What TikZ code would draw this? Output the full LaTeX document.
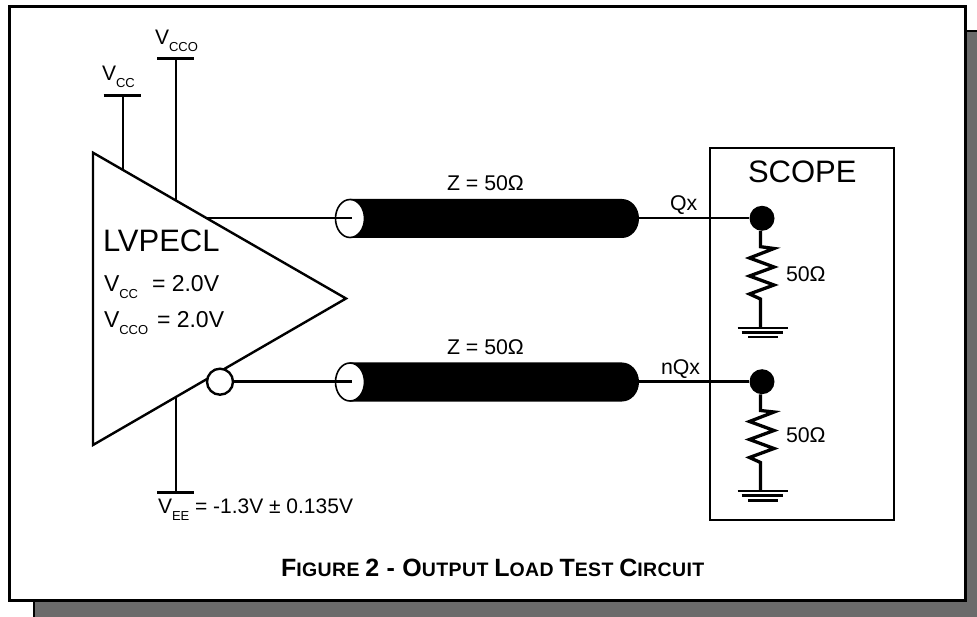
\documentclass[tikz,border=0pt]{standalone}
\usepackage{fontspec}
\setmainfont{Liberation Sans}
\newfontfamily\capfont[LetterSpace=2.0]{Liberation Sans}
\usetikzlibrary{shapes.geometric}
\newcommand{\fsz}[1]{\fontsize{#1}{#1}\selectfont}
\newcommand{\VVsub}[3]{{\fsz{#1}V\raisebox{-7pt}{\fsz{#2}#3}}}
\newcommand{\capbig}[1]{{\fsz{25}#1}}
\tikzset{
  txt/.style={anchor=base west,inner sep=0pt,outer sep=0pt,font=\fsz{21.3}},
  thick wire/.style={draw=black,line width=2.4pt},
  res wire/.style={draw=black,line width=3.3pt,line join=miter},
  railbar/.style={draw=black,line width=3pt},
  gnd/.style={draw=black,line width=2.6pt},
  dot/.style={circle,fill=black,draw=none,minimum size=25pt,inner sep=0pt},
  bubble/.style={circle,fill=white,draw=black,line width=2.4pt,minimum size=26pt,inner sep=0pt},
  mouth/.style={ellipse,fill=white,draw=black,line width=1.6pt,minimum width=29pt,minimum height=38pt,inner sep=0pt},
  cablebody/.style={fill=black,draw=none},
}
\begin{document}
\begin{tikzpicture}[x=1pt,y=-1pt]
\useasboundingbox (0,0) rectangle (977,617);
% shadow and frame
\draw[fill=black!58,draw=black,line width=2.6pt] (34,31) rectangle (985,625);
\draw[fill=white,draw=black,line width=2.6pt] (9.5,6.5) rectangle (965.5,600.5);

% coordinates
\coordinate (tA) at (93,152.7);
\coordinate (tB) at (346,298.5);
\coordinate (tC) at (93,445);
\coordinate (vccTop) at (122.7,95.5);
\coordinate (vccFoot) at (122.7,170);
\coordinate (vccoTop) at (176,58.5);
\coordinate (vccoFoot) at (176,200);
\coordinate (veeTop) at (176,397);
\coordinate (veeBot) at (176,492);
\coordinate (q1) at (206,218.3);
\coordinate (in1) at (352,218.3);
\coordinate (in2) at (352,381.7);
\coordinate (out1) at (639,218.3);
\coordinate (out2) at (639,381.7);

% scope box
\node[draw=black,line width=2.4pt,fill=white,minimum width=184pt,minimum height=372pt,inner sep=0pt,anchor=north west] (scope) at (709,147) {};

% triangle
\draw[thick wire,line join=miter,fill=white] (tA) -- (tB) -- (tC) -- cycle;

% rails
\draw[thick wire] (vccTop) -- (vccFoot);
\draw[thick wire] (vccoTop) -- (vccoFoot);
\draw[thick wire] (veeTop) -- (veeBot);
\draw[railbar] (103.5,95.5) -- (141,95.5);
\draw[railbar] (157,58.5) -- (194,58.5);
\draw[railbar] (157,492) -- (194,492);

% cables
\draw[cablebody] (350,199) -- (622,199) arc[start angle=-90,end angle=90,x radius=17,y radius=19.5] -- (350,238) -- cycle;
\draw[cablebody] (350,362.5) -- (622,362.5) arc[start angle=-90,end angle=90,x radius=17,y radius=19.5] -- (350,401.5) -- cycle;
\node[mouth] (m1) at (350,218.5) {};
\node[mouth] (m2) at (350,382) {};

% bubble
\node[bubble] (bub) at (220,381.7) {};

% dots
\node[dot] (d1) at (762,218.3) {};
\node[dot] (d2) at (762,381.7) {};

% wires
\draw[thick wire] (q1) -- (in1);
\draw[thick wire] (bub.east) -- (in2);
\draw[thick wire] (out1) -- (d1);
\draw[thick wire] (out2) -- (d2);

% resistors
\draw[res wire] (d1.south -| 760.5,0) -- (760.5,246.7) -- (774,248.5) -- (749.5,258) -- (774,267) -- (749.5,276) -- (774,285) -- (749.5,294) -- (760.5,299) -- (760.5,328);
\draw[res wire] (d2.south -| 760.5,0) -- (760.5,410.5) -- (774,412) -- (749.5,421.5) -- (774,430.5) -- (749.5,439.5) -- (774,448.5) -- (749.5,457.5) -- (760.5,462.5) -- (760.5,491);

% grounds
\draw[gnd] (737.5,328) -- (788,328);
\draw[gnd] (741.5,332.5) -- (783,332.5);
\draw[gnd] (748,337) -- (778,337);
\draw[gnd] (737.5,491) -- (788,491);
\draw[gnd] (741.5,495.5) -- (783,495.5);
\draw[gnd] (748,500.5) -- (778,500.5);

% labels
\node[txt] (lVcco) at (155,45) {\VVsub{21}{13}{CCO}};
\node[txt] (lVcc) at (102,81) {\VVsub{21}{13}{CC}};
\node[txt,font=\fsz{31}] (lLv) at (103,252) {LVPECL};
\node[txt] (l1) at (104,292) {\VVsub{23}{13}{CC}};
\node[txt,font=\fsz{23}] (l1b) at (152,292) {= 2.0V};
\node[txt] (l2) at (104,328) {\VVsub{23}{13}{CCO}};
\node[txt,font=\fsz{23}] (l2b) at (157,328) {= 2.0V};
\node[txt] (lVee) at (158,513) {\VVsub{21}{13}{EE}};
\node[txt,font=\fsz{21}] (lVeeb) at (195,513) {= -1.3V ± 0.135V};
\node[txt,font=\fsz{31}] (lScope) at (748,183) {SCOPE};
\node[txt] (z1) at (447,191) {Z = 50Ω};
\node[txt] (z2) at (447,354.5) {Z = 50Ω};
\node[txt] (qx) at (670,211) {Qx};
\node[txt] (nqx) at (661,375) {nQx};
\node[txt] (r1) at (786,282) {50Ω};
\node[txt] (r2) at (786,442) {50Ω};
\node[txt,font=\capfont\bfseries\fsz{19.5}] (cap) at (281,576) {\capbig{F}IGURE \capbig{2 - O}UTPUT \capbig{L}OAD \capbig{T}EST \capbig{C}IRCUIT};
\end{tikzpicture}
\end{document}
